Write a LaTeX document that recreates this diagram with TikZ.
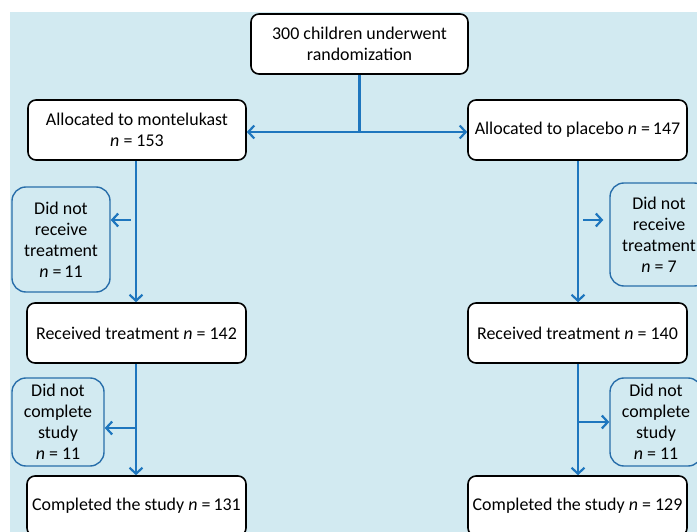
\documentclass[tikz,border=0pt]{standalone}
\usepackage{fontspec}
\setmainfont{Carlito}
\usetikzlibrary{arrows.meta}
\definecolor{bgblue}{RGB}{210,234,241}
\definecolor{lineblue}{RGB}{30,118,190}
\definecolor{boxblue}{RGB}{40,110,170}
\tikzset{
  mainbox/.style={draw=black, line width=1.6pt, rounded corners=8pt, fill=white,
    align=center, inner sep=0pt, minimum width=218bp, minimum height=60bp,
    font=\fontsize{18}{21}\selectfont},
  sidebox/.style={draw=boxblue, line width=1.4pt, rounded corners=14pt, fill=bgblue,
    align=center, inner sep=0pt, font=\fontsize{18}{21}\selectfont},
  flow/.style={draw=lineblue, line width=2.2pt},
  arr/.style={flow, -{Straight Barb[length=6pt,width=13pt,line width=2.2pt]}}
}
\begin{document}
\begin{tikzpicture}[x=1bp,y=-1bp]
\useasboundingbox (0,0) rectangle (697,532);
\clip (0,0) rectangle (697,532);
\fill[white] (0,0) rectangle (697,532);
\fill[bgblue] (10,12) rectangle (697,532);

\node[mainbox, minimum width=217bp] (rand) at (359.5,44) {300 children underwent\\randomization};
\node[mainbox] (am) at (137,130) {Allocated to montelukast\\\textit{n} = 153};
\node[mainbox, minimum width=219bp] (ap) at (577.5,130) {Allocated to placebo \textit{n} =\,147};
\node[mainbox, minimum width=219bp] (rtl) at (136.5,333) {Received treatment \textit{n} = 142};
\node[mainbox, minimum width=219bp] (rtr) at (577.5,333) {Received treatment \textit{n} = 140};
\node[mainbox, minimum width=219bp] (cl) at (136.5,506) {Completed the study \textit{n} =\,131};
\node[mainbox, minimum width=219bp] (cr) at (577.5,506) {Completed the study \textit{n} = 129};

\node[sidebox, minimum width=98bp, minimum height=105bp] (dnrl) at (61,239.5) {Did not\\receive\\treatment\\\textit{n} =\,11};
\node[sidebox, minimum width=98bp, minimum height=103bp] (dnrr) at (659,234.5) {Did not\\receive\\treatment\\\textit{n} = 7\hspace{10bp}};
\node[sidebox, minimum width=92bp, minimum height=88bp] (dncl) at (58,422) {Did not\\complete\\study\\\textit{n} = 11};
\node[sidebox, minimum width=92bp, minimum height=88bp] (dncr) at (656,422) {Did not\\complete\\study\\\textit{n} = 11};

\coordinate (split) at (359.5,132);
\draw[flow] (rand.south) -- (split);
\draw[arr] (split) -- (split -| am.east);
\draw[arr] (split) -- (split -| ap.west);

\coordinate (lx) at (136,0);
\coordinate (rx) at (578,0);
\draw[arr] (lx |- am.south) -- (lx |- rtl.north);
\draw[arr] (lx |- rtl.south) -- (lx |- cl.north);
\draw[arr] (rx |- ap.south) -- (rx |- rtr.north);
\draw[arr] (rx |- rtr.south) -- (rx |- cr.north);

\coordinate (b1) at (131,220);
\draw[arr] (b1) -- (b1 -| dnrl.east);
\coordinate (b2) at (583,220);
\draw[arr, shorten >=6bp] (b2) -- (b2 -| dnrr.west);
\coordinate (b3) at (136,428);
\draw[arr] (b3) -- (b3 -| dncl.east);
\coordinate (b4) at (578,422);
\draw[arr] (b4) -- (b4 -| dncr.west);
\end{tikzpicture}
\end{document}
